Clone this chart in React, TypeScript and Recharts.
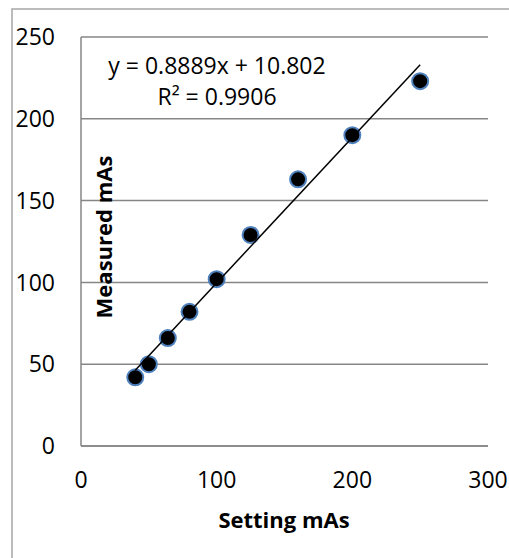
import React from 'react';
import { ScatterChart, Scatter, XAxis, YAxis, CartesianGrid } from 'recharts';

// setting vs measured mAs
const settingMAs = [40, 50, 64, 80, 100, 125, 160, 200, 250];
const measuredMAs = [42, 50, 66, 82, 102, 129, 163, 190, 223];
const xTicks = [0, 100, 200, 300];
const yTicks = [0, 50, 100, 150, 200, 250];

// linear trendline from the fitted equation
const slope = 0.8889;
const intercept = 10.802;
const trendRange = [40, 250];

const points = settingMAs.map((x, i) => ({ x, y: measuredMAs[i] }));
const trend = trendRange.map((x) => ({ x, y: slope * x + intercept }));

const font = '"Open Sans", sans-serif';
const gray = '#868686';

const Dot = (props: any) => (
  <circle cx={props.cx} cy={props.cy} r={8} fill="#000" stroke="#4f81bd" strokeWidth={2} />
);

export default function App() {
  return (
    <div style={{ position: 'absolute', left: 0, top: 0, width: 509, height: 558, overflow: 'hidden', background: '#fff' }}>
      <ScatterChart width={509} height={558} margin={{ top: 37, right: 21, bottom: 0, left: 0 }}>
        <rect x={12} y={9} width={600} height={600} fill="none" stroke="#a6a6a6" strokeWidth={1.5} />
        <CartesianGrid vertical={false} stroke={gray} strokeWidth={1.5} />
        <XAxis
          type="number"
          dataKey="x"
          domain={[0, 300]}
          ticks={xTicks}
          height={112}
          tickSize={0}
          tickMargin={26}
          axisLine={{ stroke: gray, strokeWidth: 1.5 }}
          tick={{ fill: '#000', fontSize: 23, fontFamily: font }}
        />
        <YAxis
          type="number"
          dataKey="y"
          domain={[0, 250]}
          ticks={yTicks}
          width={81}
          tickSize={0}
          tickMargin={26}
          axisLine={{ stroke: gray, strokeWidth: 1.5 }}
          tick={{ fill: '#000', fontSize: 23, fontFamily: font }}
        />
        <Scatter data={points} shape={<Dot />} isAnimationActive={false} />
        <Scatter
          data={trend}
          line={{ stroke: '#000', strokeWidth: 1.5 }}
          shape={() => null}
          isAnimationActive={false}
        />
        <text x={217} y={74} textAnchor="middle" fontFamily={font} fontSize={23} fill="#000">
          y = 0.8889x + 10.802
        </text>
        <text x={217} y={105} textAnchor="middle" fontFamily={font} fontSize={23} fill="#000">
          R² = 0.9906
        </text>
        <text x={284} y={528} textAnchor="middle" fontFamily={font} fontSize={22} fontWeight="bold" fill="#000">
          Setting mAs
        </text>
        <text
          x={112}
          y={237}
          transform="rotate(-90, 112, 237)"
          textAnchor="middle"
          fontFamily={font}
          fontSize={22}
          fontWeight="bold"
          fill="#000"
        >
          Measured mAs
        </text>
      </ScatterChart>
    </div>
  );
}
